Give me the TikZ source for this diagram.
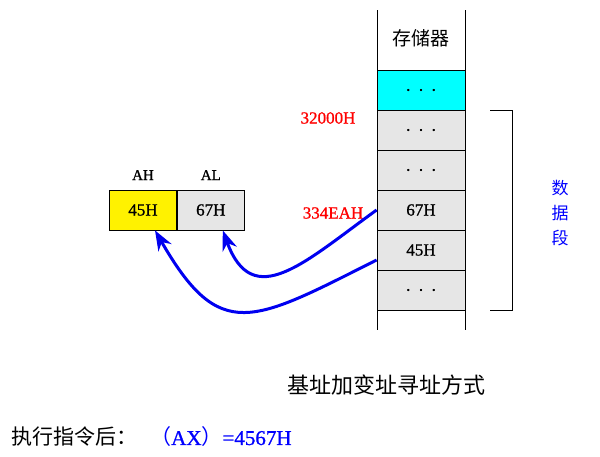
\documentclass[tikz,border=0pt]{standalone}
\usepackage{fontspec}
\setmainfont{Liberation Serif}[FakeBold=1]
\newfontfamily\cjk{Noto Sans CJK SC}
\usetikzlibrary{positioning,arrows.meta}

\definecolor{cellgray}{HTML}{E6E6E6}
\definecolor{cellcyan}{HTML}{00FFFF}
\definecolor{arrowblue}{HTML}{0000F0}

\begin{document}
\begin{tikzpicture}[x=1pt, y=-1pt,
    cell/.style={draw, thick, fill=cellgray, minimum width=88pt, minimum height=40pt, inner sep=0pt, font=\fontsize{17}{17}\selectfont},
    reg/.style={draw, thick, minimum width=67pt, minimum height=40pt, inner sep=0pt, font=\fontsize{17}{17}\selectfont},
    addr/.style={red, font=\fontsize{17}{17}\selectfont},
    fetch/.style={arrowblue, line width=3pt, -{Stealth[length=20pt, width=15pt]}}
]
    % Page frame
    \useasboundingbox (0,0) rectangle (600,456);

    % --- Memory column ---
    \coordinate (TL) at (377,10);
    \coordinate (TR) at (465,10);
    \draw[thick] (TL) -- (377,330);
    \draw[thick] (TR) -- (465,330);
    \node[font=\cjk\fontsize{19}{19}\selectfont] (head) at (421,38) {存储器};

    % Memory cells
    \node[cell, fill=cellcyan] (m0) at (421,90) {.\ \ .\ \ .};
    \node[cell] (m1) at (421,130) {.\ \ .\ \ .};
    \node[cell] (m2) at (421,170) {.\ \ .\ \ .};
    \node[cell] (m67) at (421,210) {67H};
    \node[cell] (m45) at (421,250) {45H};
    \node[cell] (m5) at (421,290) {.\ \ .\ \ .};

    % Addresses
    \node[addr] (a1) at (328,118) {32000H};
    \node[addr] (a2) at (333,213) {334EAH};

    % --- Data segment bracket ---
    \coordinate (b1) at (490,110);
    \coordinate (b2) at (512,110);
    \coordinate (b3) at (512,310);
    \coordinate (b4) at (490,310);
    \draw (b1) -- (b2) -- (b3) -- (b4);
    \node[blue, align=center, font=\cjk\fontsize{17}{25}\selectfont] (seg) at (560,213) {数\\据\\段};

    % --- Registers AH / AL ---
    \node[reg, fill=yellow] (ah) at (143,210) {45H};
    \node[reg, fill=cellgray, right=0pt of ah] (al) {67H};
    \node[font=\fontsize{15}{15}\selectfont, above=6pt of ah.north] (ahl) {AH};
    \node[font=\fontsize{15}{15}\selectfont, above=6pt of al.north] (all) {AL};

    % --- Transfer arrows ---
    \draw[fetch] (m67.west) .. controls +(-72,52) and +(30,82) .. ([xshift=12pt]al.south);
    \draw[fetch] ([yshift=-10pt]m45.west) .. controls +(-125,63) and +(65,113) .. ([xshift=12pt]ah.south);

    % --- Captions ---
    \node[font=\cjk\fontsize{22}{22}\selectfont] (title) at (386,385) {基址加变址寻址方式};
    \node[anchor=west, font=\cjk\fontsize{21}{21}\selectfont] (res) at (8,437) {执行指令后：};
    \node[anchor=west, blue, inner sep=0pt, font=\fontsize{21}{21}\selectfont] (val) at (150,437) {{\cjk （}AX{\cjk ）}=4567H};

\end{tikzpicture}
\end{document}
